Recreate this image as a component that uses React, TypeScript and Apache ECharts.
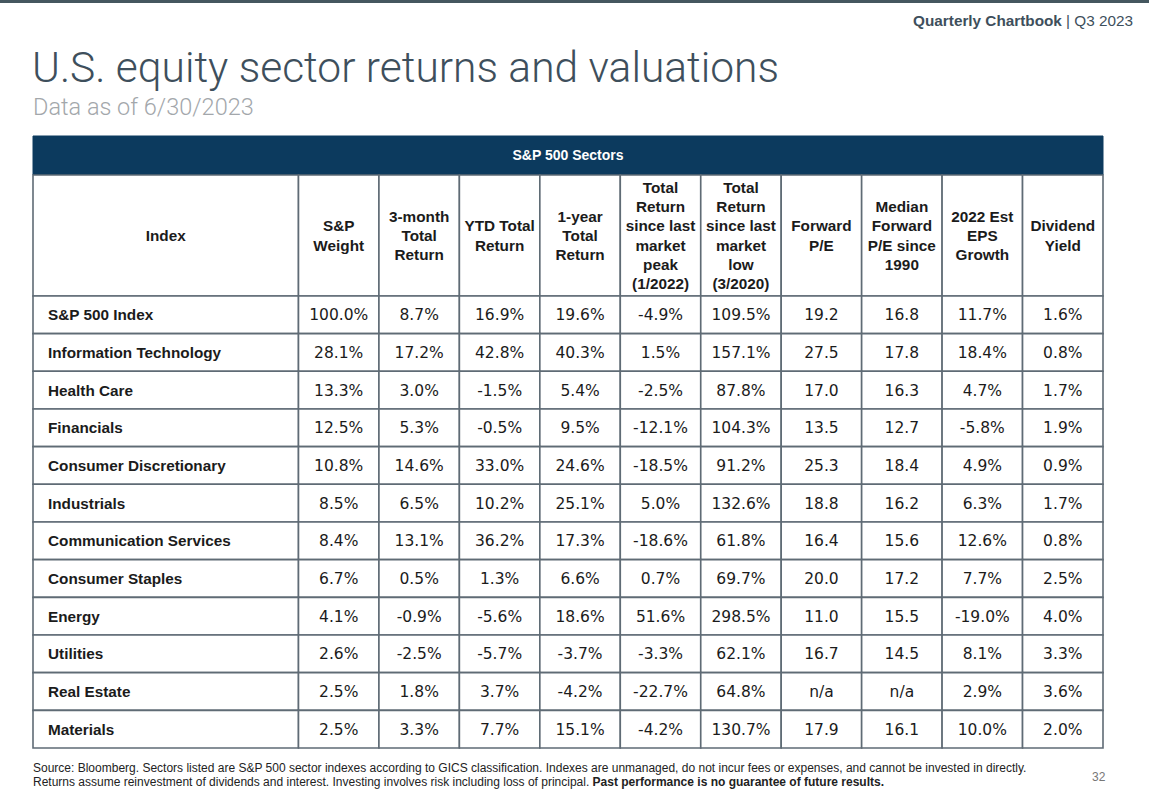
import React, { useEffect, useRef } from "react";
import * as echarts from "echarts";

// ---------- data ----------
const sectors = [
  "S&P 500 Index",
  "Information Technology",
  "Health Care",
  "Financials",
  "Consumer Discretionary",
  "Industrials",
  "Communication Services",
  "Consumer Staples",
  "Energy",
  "Utilities",
  "Real Estate",
  "Materials",
];
const spWeight = [100.0, 28.1, 13.3, 12.5, 10.8, 8.5, 8.4, 6.7, 4.1, 2.6, 2.5, 2.5];
const threeMonthReturn = [8.7, 17.2, 3.0, 5.3, 14.6, 6.5, 13.1, 0.5, -0.9, -2.5, 1.8, 3.3];
const ytdReturn = [16.9, 42.8, -1.5, -0.5, 33.0, 10.2, 36.2, 1.3, -5.6, -5.7, 3.7, 7.7];
const oneYearReturn = [19.6, 40.3, 5.4, 9.5, 24.6, 25.1, 17.3, 6.6, 18.6, -3.7, -4.2, 15.1];
const sincePeakReturn = [-4.9, 1.5, -2.5, -12.1, -18.5, 5.0, -18.6, 0.7, 51.6, -3.3, -22.7, -4.2];
const sinceLowReturn = [109.5, 157.1, 87.8, 104.3, 91.2, 132.6, 61.8, 69.7, 298.5, 62.1, 64.8, 130.7];
const forwardPE: (number | null)[] = [19.2, 27.5, 17.0, 13.5, 25.3, 18.8, 16.4, 20.0, 11.0, 16.7, null, 17.9];
const medianForwardPE: (number | null)[] = [16.8, 17.8, 16.3, 12.7, 18.4, 16.2, 15.6, 17.2, 15.5, 14.5, null, 16.1];
const epsGrowth = [11.7, 18.4, 4.7, -5.8, 4.9, 6.3, 12.6, 7.7, -19.0, 8.1, 2.9, 10.0];
const dividendYield = [1.6, 0.8, 1.7, 1.9, 0.9, 1.7, 0.8, 2.5, 4.0, 3.3, 3.6, 2.0];

const headerLabels = [
  "Index",
  "S&P\nWeight",
  "3-month\nTotal\nReturn",
  "YTD Total\nReturn",
  "1-year\nTotal\nReturn",
  "Total\nReturn\nsince last\nmarket\npeak\n(1/2022)",
  "Total\nReturn\nsince last\nmarket\nlow\n(3/2020)",
  "Forward\nP/E",
  "Median\nForward\nP/E since\n1990",
  "2022 Est\nEPS\nGrowth",
  "Dividend\nYield",
];
const tableTitle = "S&P 500 Sectors";
const chartTitle = "U.S. equity sector returns and valuations";
const chartSubtitle = "Data as of 6/30/2023";

// ---------- formatting ----------
const pct = (v: number | null) => (v == null ? "n/a" : v.toFixed(1) + "%");
const num = (v: number | null) => (v == null ? "n/a" : v.toFixed(1));

const valueColumns: { values: (number | null)[]; fmt: (v: number | null) => string }[] = [
  { values: spWeight, fmt: pct },
  { values: threeMonthReturn, fmt: pct },
  { values: ytdReturn, fmt: pct },
  { values: oneYearReturn, fmt: pct },
  { values: sincePeakReturn, fmt: pct },
  { values: sinceLowReturn, fmt: pct },
  { values: forwardPE, fmt: num },
  { values: medianForwardPE, fmt: num },
  { values: epsGrowth, fmt: pct },
  { values: dividendYield, fmt: pct },
];

// ---------- layout (axis units) ----------
const INDEX_W = 3.3;
const BAND_H = 1.035;
const HEAD_H = 3.212;
const NCOL = valueColumns.length + 1;
const X_MAX = INDEX_W + valueColumns.length;
const Y_MAX = BAND_H + HEAD_H + sectors.length;
const colX0 = (c: number) => (c === 0 ? 0 : INDEX_W + c - 1);
const colX1 = (c: number) => (c === 0 ? INDEX_W : INDEX_W + c);

type Cell = { text: string; kind: "band" | "head" | "name" | "value" };
const cells: Cell[] = [];
const cellData: number[][] = [];

cells.push({ text: tableTitle, kind: "band" });
cellData.push([0, 0, X_MAX, BAND_H]);
for (let c = 0; c < NCOL; c++) {
  cells.push({ text: headerLabels[c], kind: "head" });
  cellData.push([colX0(c), BAND_H, colX1(c), BAND_H + HEAD_H]);
}
sectors.forEach((name, r) => {
  const y0 = BAND_H + HEAD_H + r;
  cells.push({ text: name, kind: "name" });
  cellData.push([colX0(0), y0, colX1(0), y0 + 1]);
  valueColumns.forEach((col, i) => {
    cells.push({ text: col.fmt(col.values[r]), kind: "value" });
    cellData.push([colX0(i + 1), y0, colX1(i + 1), y0 + 1]);
  });
});

const TABLE_FONT = "'Liberation Sans', Arial, sans-serif";
const VALUE_FONT = "'DejaVu Sans', 'Liberation Sans', sans-serif";
const BORDER = "#5f6b75";
const NAVY = "#0c3a5e";
const TEXT = "#1b1b1b";
const SLATE = "#3e4f5c";

export default function App() {
  const ref = useRef<HTMLDivElement>(null);
  useEffect(() => {
    if (!ref.current) return;
    const chart = echarts.init(ref.current, null, { renderer: "svg" });
    chart.setOption({
      animation: false,
      backgroundColor: "#ffffff",
      grid: { left: 33, top: 136, width: 1070, height: 612 },
      xAxis: { type: "value", min: 0, max: X_MAX, show: false },
      yAxis: { type: "value", min: 0, max: Y_MAX, inverse: true, show: false },
      graphic: [
        { type: "rect", left: 0, top: 0, shape: { width: 1149, height: 3 }, style: { fill: "#45575f" } },
        {
          type: "text",
          left: 32,
          top: 46,
          style: {
            text: chartTitle,
            fontFamily: "Roboto",
            fontWeight: 300,
            fontSize: 42.5,
            lineHeight: 43,
            fill: SLATE,
          },
        },
        {
          type: "text",
          left: 33,
          top: 95,
          style: {
            text: chartSubtitle,
            fontFamily: "Roboto",
            fontWeight: 300,
            fontSize: 23.5,
            lineHeight: 24,
            fill: "#a3a7ab",
          },
        },
        {
          type: "text",
          right: 16,
          top: 13,
          style: {
            text: "{b|Quarterly Chartbook}{n| | Q3 2023}",
            rich: {
              b: { fontFamily: TABLE_FONT, fontWeight: "bold", fontSize: 15.3, fill: SLATE },
              n: { fontFamily: TABLE_FONT, fontWeight: "normal", fontSize: 15.3, fill: SLATE },
            },
          },
        },
        {
          type: "text",
          left: 33,
          top: 762,
          style: {
            text:
              "Source: Bloomberg. Sectors listed are S&P 500 sector indexes according to GICS classification. Indexes are unmanaged, do not incur fees or expenses, and cannot be invested in directly.",
            fontFamily: TABLE_FONT,
            fontSize: 12,
            fill: "#222",
          },
        },
        {
          type: "text",
          left: 33,
          top: 776,
          style: {
            text:
              "{n|Returns assume reinvestment of dividends and interest. Investing involves risk including loss of principal. }{b|Past performance is no guarantee of future results.}",
            rich: {
              n: { fontFamily: TABLE_FONT, fontSize: 12, fill: "#222" },
              b: { fontFamily: TABLE_FONT, fontSize: 12, fontWeight: "bold", fill: "#222" },
            },
          },
        },
        {
          type: "text",
          left: 1092,
          top: 771,
          style: { text: "32", fontFamily: TABLE_FONT, fontSize: 12, fill: "#777" },
        },
      ],
      series: [
        {
          type: "custom",
          coordinateSystem: "cartesian2d",
          clip: false,
          encode: { x: [0, 2], y: [1, 3] },
          data: cellData,
          renderItem: (params: any, api: any) => {
            const cell = cells[params.dataIndex];
            const p0 = api.coord([api.value(0), api.value(1)]);
            const p1 = api.coord([api.value(2), api.value(3)]);
            const x = p0[0];
            const y = p0[1];
            const w = p1[0] - p0[0];
            const h = p1[1] - p0[1];
            const isBand = cell.kind === "band";
            const isName = cell.kind === "name";
            const isValue = cell.kind === "value";
            return {
              type: "group",
              children: [
                {
                  type: "rect",
                  shape: { x, y, width: w, height: h },
                  style: {
                    fill: isBand ? NAVY : "#ffffff",
                    stroke: isBand ? NAVY : BORDER,
                    lineWidth: isBand ? 1 : 1.6,
                  },
                },
                {
                  type: "text",
                  x: isName ? x + 15 : x + w / 2,
                  y: y + h / 2 + (isValue ? 0.5 : 0),
                  style: {
                    text: cell.text,
                    align: isName ? "left" : "center",
                    verticalAlign: "middle",
                    fill: isBand ? "#ffffff" : TEXT,
                    fontFamily: isValue ? VALUE_FONT : TABLE_FONT,
                    fontWeight: isValue ? "normal" : "bold",
                    fontSize: isBand ? 14 : isValue ? 15.5 : 15.3,
                    lineHeight: 19.3,
                  },
                },
              ],
            };
          },
        },
      ],
    });
    return () => chart.dispose();
  }, []);
  return (
    <div
      ref={ref}
      style={{ position: "fixed", left: 0, top: 0, width: 1149, height: 807 }}
    />
  );
}
